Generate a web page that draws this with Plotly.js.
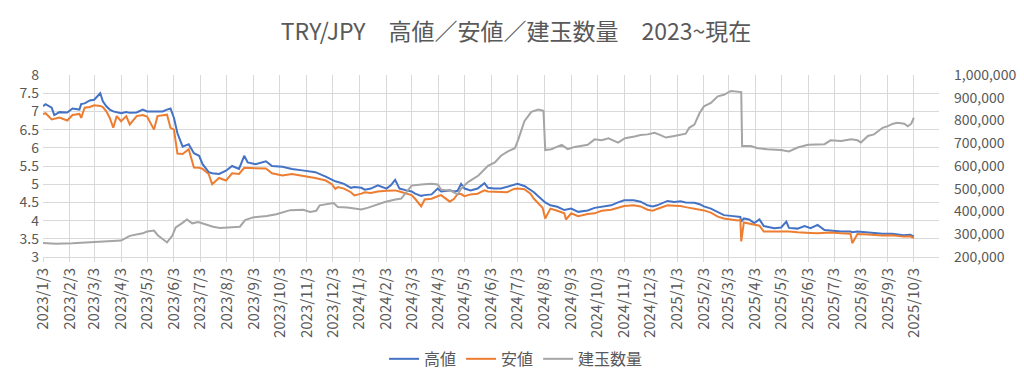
<!DOCTYPE html>
<html>
<head>
<meta charset="utf-8">
<script src="https://cdn.plot.ly/plotly-3.0.1.min.js"></script>
<style>
html,body{margin:0;padding:0;background:#fff;}
#chart{width:1024px;height:388px;}
</style>
</head>
<body>
<div id="chart"></div>
<script>
// ---- price data (高値 / 安値) ----
const priceDates = [
"2023-01-03","2023-01-06","2023-01-13","2023-01-16","2023-01-22","2023-01-31","2023-02-06","2023-02-14","2023-02-16","2023-02-20",
"2023-02-26","2023-03-03","2023-03-10","2023-03-13","2023-03-17","2023-03-21","2023-03-25","2023-03-29","2023-04-03","2023-04-09",
"2023-04-13","2023-04-21","2023-04-28","2023-05-03","2023-05-11","2023-05-15","2023-05-21","2023-05-26","2023-05-30","2023-06-03",
"2023-06-07","2023-06-13","2023-06-20","2023-06-26","2023-07-02","2023-07-06","2023-07-13","2023-07-17","2023-07-25","2023-08-02",
"2023-08-09","2023-08-17","2023-08-23","2023-08-27","2023-09-05","2023-09-17","2023-09-24","2023-10-06","2023-10-17","2023-10-29",
"2023-11-06","2023-11-13","2023-11-25","2023-12-02","2023-12-06","2023-12-09","2023-12-16","2023-12-24","2023-12-28","2024-01-05",
"2024-01-09","2024-01-16","2024-01-24","2024-02-03","2024-02-08","2024-02-13","2024-02-18","2024-02-26","2024-03-03","2024-03-07",
"2024-03-14","2024-03-18","2024-03-26","2024-04-02","2024-04-06","2024-04-16","2024-04-21","2024-04-25","2024-04-29","2024-05-03",
"2024-05-10","2024-05-18","2024-05-26","2024-05-30","2024-06-06","2024-06-14","2024-06-21","2024-06-29","2024-07-03","2024-07-11",
"2024-07-18","2024-07-22","2024-07-26","2024-08-01","2024-08-04","2024-08-10","2024-08-18","2024-08-26","2024-08-28","2024-09-03",
"2024-09-11","2024-09-22","2024-09-30","2024-10-08","2024-10-19","2024-10-27","2024-11-03","2024-11-14","2024-11-22","2024-11-30",
"2024-12-06","2024-12-11","2024-12-17","2024-12-23","2024-12-31","2025-01-07","2025-01-13","2025-01-23","2025-01-29","2025-02-03",
"2025-02-11","2025-02-19","2025-02-26","2025-03-06","2025-03-14","2025-03-17","2025-03-18","2025-03-21","2025-03-27","2025-04-02",
"2025-04-08","2025-04-13","2025-04-25","2025-05-03","2025-05-09","2025-05-12","2025-05-22","2025-05-30","2025-06-06","2025-06-14",
"2025-06-22","2025-06-29","2025-07-11","2025-07-22","2025-07-24","2025-07-30","2025-08-11","2025-08-18","2025-08-28","2025-09-08",
"2025-09-21","2025-09-29","2025-10-03"
];
const highValues = [
7.14,7.20,7.10,6.90,6.98,6.97,7.08,7.05,7.20,7.22,
7.30,7.32,7.50,7.28,7.14,7.05,7.00,6.98,6.95,6.98,
6.96,6.97,7.05,7.00,7.00,6.99,7.00,7.05,7.08,6.82,
6.40,6.03,6.10,5.85,5.78,5.55,5.33,5.30,5.28,5.37,
5.50,5.42,5.78,5.60,5.55,5.63,5.50,5.48,5.42,5.38,
5.36,5.33,5.21,5.12,5.08,5.06,5.01,4.90,4.92,4.90,
4.85,4.88,4.97,4.88,4.97,5.12,4.88,4.83,4.80,4.74,
4.68,4.70,4.72,4.88,4.80,4.83,4.80,4.82,5.01,4.88,
4.83,4.88,5.03,4.90,4.88,4.88,4.93,4.98,5.01,4.95,
4.85,4.78,4.69,4.55,4.50,4.42,4.38,4.29,4.30,4.33,
4.24,4.28,4.35,4.38,4.42,4.50,4.56,4.56,4.52,4.42,
4.39,4.42,4.48,4.54,4.51,4.53,4.50,4.49,4.45,4.39,
4.33,4.24,4.15,4.13,4.10,4.10,3.97,4.06,4.03,3.93,
4.03,3.85,3.79,3.81,3.97,3.80,3.78,3.85,3.79,3.88,
3.74,3.72,3.70,3.70,3.68,3.70,3.67,3.65,3.64,3.64,
3.60,3.61,3.56
];
const lowValues = [
6.93,6.95,6.78,6.80,6.83,6.75,6.90,6.93,6.82,7.10,
7.12,7.17,7.15,7.12,7.00,6.82,6.55,6.87,6.73,6.87,
6.64,6.87,6.90,6.86,6.50,6.87,6.90,6.91,6.55,6.50,
5.84,5.83,5.96,5.46,5.45,5.42,5.28,5.00,5.17,5.10,
5.30,5.28,5.45,5.45,5.43,5.43,5.30,5.24,5.28,5.22,
5.20,5.17,5.10,5.00,4.87,4.92,4.88,4.78,4.69,4.74,
4.78,4.76,4.80,4.82,4.83,4.83,4.80,4.74,4.70,4.60,
4.39,4.58,4.60,4.67,4.70,4.52,4.60,4.73,4.73,4.67,
4.72,4.74,4.83,4.80,4.80,4.78,4.78,4.87,4.88,4.86,
4.74,4.60,4.50,4.35,4.06,4.33,4.27,4.20,4.03,4.20,
4.12,4.18,4.20,4.27,4.30,4.35,4.40,4.42,4.39,4.30,
4.27,4.32,4.38,4.42,4.41,4.40,4.37,4.33,4.32,4.28,
4.22,4.11,4.06,4.03,4.00,4.02,3.43,3.95,3.92,3.87,
3.86,3.70,3.70,3.72,3.72,3.70,3.68,3.68,3.66,3.65,
3.66,3.67,3.65,3.64,3.38,3.63,3.62,3.60,3.59,3.60,
3.56,3.57,3.52
];

// ---- open interest (建玉数量) ----
const oiDates = [
"2023-01-03","2023-01-18","2023-02-06","2023-03-01","2023-03-17","2023-04-03","2023-04-13","2023-04-28","2023-05-03","2023-05-11",
"2023-05-15","2023-05-26","2023-06-01","2023-06-05","2023-06-12","2023-06-18","2023-06-24","2023-07-01","2023-07-18","2023-07-26",
"2023-08-18","2023-08-24","2023-09-02","2023-09-18","2023-09-29","2023-10-15","2023-10-30","2023-11-07","2023-11-14","2023-11-18",
"2023-12-04","2023-12-09","2023-12-20","2024-01-05","2024-01-13","2024-01-24","2024-02-01","2024-02-12","2024-02-20","2024-02-26",
"2024-03-03","2024-03-14","2024-03-26","2024-04-02","2024-04-06","2024-04-18","2024-04-25","2024-04-29","2024-05-07","2024-05-19",
"2024-05-30","2024-06-07","2024-06-14","2024-06-22","2024-06-30","2024-07-04","2024-07-11","2024-07-19","2024-07-27","2024-08-02",
"2024-08-04","2024-08-11","2024-08-23","2024-08-30","2024-09-07","2024-09-22","2024-09-30","2024-10-08","2024-10-16","2024-10-27",
"2024-11-04","2024-11-15","2024-11-22","2024-11-30","2024-12-08","2024-12-15","2024-12-21","2024-12-31","2025-01-07","2025-01-13",
"2025-01-17","2025-01-23","2025-01-29","2025-02-03","2025-02-11","2025-02-19","2025-02-26","2025-03-06","2025-03-18","2025-03-19",
"2025-03-29","2025-04-06","2025-04-17","2025-05-03","2025-05-12","2025-05-22","2025-06-03","2025-06-14","2025-06-22","2025-06-29",
"2025-07-11","2025-07-23","2025-07-30","2025-08-03","2025-08-11","2025-08-18","2025-08-28","2025-09-03","2025-09-09","2025-09-14",
"2025-09-22","2025-09-26","2025-09-30","2025-10-03"
];
const oiValues = [
261000,258000,260000,264000,266000,272000,293000,304000,312000,316000,
297000,264000,293000,330000,348000,365000,348000,354000,333000,328000,
333000,362000,374000,380000,388000,406000,408000,398000,403000,427000,
437000,420000,418000,409000,417000,432000,442000,452000,457000,485000,
514000,519000,522000,519000,496000,490000,475000,500000,529000,558000,
601000,616000,645000,664000,678000,717000,797000,838000,848000,843000,
670000,674000,693000,674000,684000,693000,717000,713000,722000,703000,
722000,730000,736000,739000,746000,736000,725000,732000,736000,742000,
768000,782000,833000,862000,877000,906000,913000,930000,925000,688000,
688000,678000,674000,670000,664000,681000,693000,693000,696000,713000,
710000,717000,713000,703000,732000,739000,768000,775000,786000,790000,
786000,775000,786000,812000
];

// ---- x tick labels ----
const xTickLabels = [
"2023/1/3","2023/2/3","2023/3/3","2023/4/3","2023/5/3","2023/6/3","2023/7/3","2023/8/3","2023/9/3","2023/10/3","2023/11/3","2023/12/3",
"2024/1/3","2024/2/3","2024/3/3","2024/4/3","2024/5/3","2024/6/3","2024/7/3","2024/8/3","2024/9/3","2024/10/3","2024/11/3","2024/12/3",
"2025/1/3","2025/2/3","2025/3/3","2025/4/3","2025/5/3","2025/6/3","2025/7/3","2025/8/3","2025/9/3","2025/10/3"
];
const seriesNames = ["高値","安値","建玉数量"];
const chartTitle = "TRY/JPY　高値／安値／建玉数量　2023~現在";

const xTickVals = xTickLabels.map(s => {
  const p = s.split("/");
  return p[0] + "-" + p[1].padStart(2,"0") + "-" + p[2].padStart(2,"0");
});

const txt = "#595959";
const grid = "#D9D9D9";
const fam = "'Noto Sans CJK JP', 'Noto Sans', sans-serif";

const traces = [
  {x: priceDates, y: highValues, name: seriesNames[0], type: "scatter", mode: "lines",
   line: {color: "#4472C4", width: 2}},
  {x: priceDates, y: lowValues, name: seriesNames[1], type: "scatter", mode: "lines",
   line: {color: "#ED7D31", width: 2}},
  {x: oiDates, y: oiValues, name: seriesNames[2], type: "scatter", mode: "lines", yaxis: "y2",
   line: {color: "#A5A5A5", width: 2}}
];

const layout = {
  width: 1024, height: 388,
  margin: {l: 43, r: 85, t: 75, b: 129, pad: 0},
  paper_bgcolor: "#fff", plot_bgcolor: "#fff",
  font: {family: fam, color: txt, size: 13},
  title: {text: chartTitle, font: {size: 23, color: txt, family: fam},
          x: 0.504, xref: "container", xanchor: "center", y: 0.918, yref: "container", yanchor: "middle"},
  showlegend: true,
  legend: {orientation: "h", x: 0.528, xanchor: "center", y: -0.56, yanchor: "middle",
           font: {size: 16, color: txt, family: fam}, itemwidth: 30, traceorder: "normal"},
  xaxis: {type: "date", range: ["2023-01-03", "2025-11-01"],
          tickmode: "array", tickvals: xTickVals, ticktext: xTickLabels, tickangle: -90,
          ticks: "outside", ticklen: 4, tickcolor: grid, tickfont: {size: 15, color: txt},
          showgrid: true, gridcolor: grid, gridwidth: 1,
          showline: true, linecolor: grid, linewidth: 1, zeroline: false, fixedrange: true},
  yaxis: {range: [3, 8], dtick: 0.5, tick0: 3, tickfont: {size: 14, color: txt},
          showgrid: true, gridcolor: grid, gridwidth: 1, zeroline: false, showline: false,
          ticks: "", ticklabelstandoff: 3, fixedrange: true},
  yaxis2: {range: [200000, 1000000], dtick: 100000, tick0: 200000, overlaying: "y", side: "right",
           tickformat: ",d", tickfont: {size: 14, color: txt}, showgrid: false, zeroline: false,
           showline: false, ticks: "", ticklabelstandoff: 14, fixedrange: true}
};

Plotly.newPlot("chart", traces, layout, {displayModeBar: false, staticPlot: true});
</script>
</body>
</html>
